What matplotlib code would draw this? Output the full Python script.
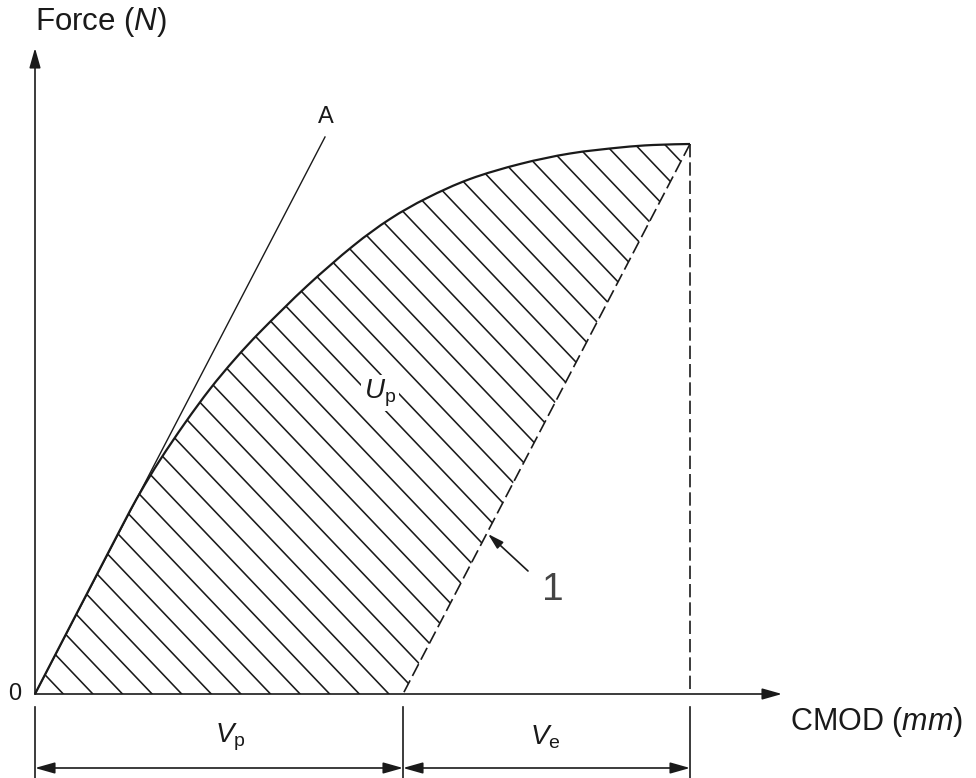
"""Force - CMOD diagram with the plastic work area U_p shaded."""

import numpy as np
import matplotlib
matplotlib.use('Agg')
import matplotlib.pyplot as plt
from matplotlib.path import Path
from matplotlib.patches import PathPatch

plt.rcParams['font.family'] = ['Liberation Sans', 'DejaVu Sans']
plt.rcParams['mathtext.fontset'] = 'custom'
plt.rcParams['mathtext.rm'] = 'Liberation Sans'
plt.rcParams['mathtext.it'] = 'Liberation Sans:italic'

# loading curve, CMOD (mm) against force (N), arbitrary scale
CMOD = [0.0, 0.85, 1.05, 1.25, 1.50, 1.75, 2.00, 2.27, 2.72, 3.18, 3.55,
        3.92, 4.35, 4.85, 5.35, 5.85, 6.18, 6.55]
FORCE = [0.0, 1.64, 2.01, 2.34, 2.71, 3.05, 3.35, 3.64, 4.08, 4.48, 4.75,
         4.96, 5.15, 5.30, 5.405, 5.465, 5.49, 5.50]

# end of the elastic tangent line A
TANGENT_END = (2.90, 5.57)
# V_p : where the unloading line meets the CMOD axis
CMOD_PLASTIC = 3.68

INK = '#1a1a1a'


def smooth_path(xs, ys) -> Path:
    """Catmull-Rom spline through the points, as cubic bezier segments."""
    pts = np.column_stack([xs, ys])
    pad = np.vstack([pts[0], pts, pts[-1]])
    verts = [pts[0]]
    codes = [Path.MOVETO]
    for i in range(1, len(pad) - 2):
        p0, p1, p2, p3 = pad[i - 1], pad[i], pad[i + 1], pad[i + 2]
        verts += [p1 + (p2 - p0) / 6, p2 - (p3 - p1) / 6, p2]
        codes += [Path.CURVE4] * 3
    return Path(np.array(verts), codes)


def arrow(ax, start, end, style='-|>', scale=20) -> None:
    """plain line with a filled arrow head"""
    ax.annotate('', xy=end, xytext=start,
                arrowprops=dict(arrowstyle=style + ',head_length=0.6,head_width=0.17',
                                mutation_scale=scale, lw=1.2, color=INK,
                                shrinkA=0, shrinkB=0))


def plot_diagram() -> None:
    """draws the diagram and saves it"""
    fig = plt.figure(figsize=(9.76, 7.78), dpi=100)
    ax = fig.add_axes([0, 0, 1, 1])
    ax.set_xlim(-0.35, 9.41)
    ax.set_ylim(-0.84, 6.94)
    ax.axis('off')

    peak = (CMOD[-1], FORCE[-1])
    curve = smooth_path(CMOD, FORCE)

    # closed region: loading curve then unloading line back to the axis
    region_path = Path(np.vstack([curve.vertices, [CMOD_PLASTIC, 0], [0, 0]]),
                       list(curve.codes) + [Path.LINETO, Path.CLOSEPOLY])
    region = PathPatch(region_path, fill=False, lw=0, transform=ax.transData)
    ax.add_patch(region)

    # hatching
    slope = 1.05
    for x0 in np.arange(0.283, 12.6, 0.296):
        line, = ax.plot([x0 - 6.5, x0 + 0.6], [6.5 * slope, -0.6 * slope],
                        color=INK, lw=1.15, solid_capstyle='butt')
        line.set_clip_path(region)

    # axes
    arrow(ax, (0, 0), (7.47, 0))
    arrow(ax, (0, 0), (0, 6.46))

    # tangent A and loading curve
    ax.plot([0, TANGENT_END[0]], [0, TANGENT_END[1]], color=INK, lw=1.0)
    ax.add_patch(PathPatch(curve, fill=False, lw=1.6, color=INK))

    # unloading line and peak projection
    ax.plot([peak[0], CMOD_PLASTIC], [peak[1], 0], color=INK, lw=1.2,
            linestyle=(0, (8, 3)))
    ax.plot([peak[0], peak[0]], [peak[1], 0], color=INK, lw=1.2,
            linestyle=(0, (8, 3)))

    # dimension lines for V_p and V_e
    for x in [0, CMOD_PLASTIC, peak[0]]:
        ax.plot([x, x], [-0.13, -0.84], color=INK, lw=1.2)
    arrow(ax, (0, -0.74), (CMOD_PLASTIC, -0.74), '<|-|>')
    arrow(ax, (CMOD_PLASTIC, -0.74), (peak[0], -0.74), '<|-|>')

    # leader for the unloading line
    arrow(ax, (4.93, 1.23), (4.53, 1.60), scale=16)

    ax.text(0, 6.72, r'Force ($\mathit{N}$)', fontsize=22.5, color=INK,
            ha='left', va='center')
    ax.text(9.28, -0.28, r'CMOD ($\mathit{mm}$)', fontsize=22, color=INK,
            ha='right', va='center')
    ax.text(-0.2, 0.0, '0', fontsize=17, color=INK, ha='center', va='center')
    ax.text(2.91, 5.77, 'A', fontsize=17, color=INK, ha='center', va='center')
    ax.text(5.18, 1.04, '1', fontsize=28, color='#444444', ha='center',
            va='center')
    ax.text(3.45, 3.01, r'$\mathit{U}_{\mathrm{p}}$', fontsize=20, color=INK,
            ha='center', va='center',
            bbox=dict(facecolor='white', edgecolor='none', pad=2))
    ax.text(1.95, -0.43, r'$\mathit{V}_{\mathrm{p}}$', fontsize=20,
            color=INK, ha='center', va='center')
    ax.text(5.10, -0.43, r'$\mathit{V}_{\mathrm{e}}$', fontsize=20,
            color=INK, ha='center', va='center')

    fig.savefig('out.png', dpi=100, facecolor='white')


if __name__ == '__main__':
    plot_diagram()
